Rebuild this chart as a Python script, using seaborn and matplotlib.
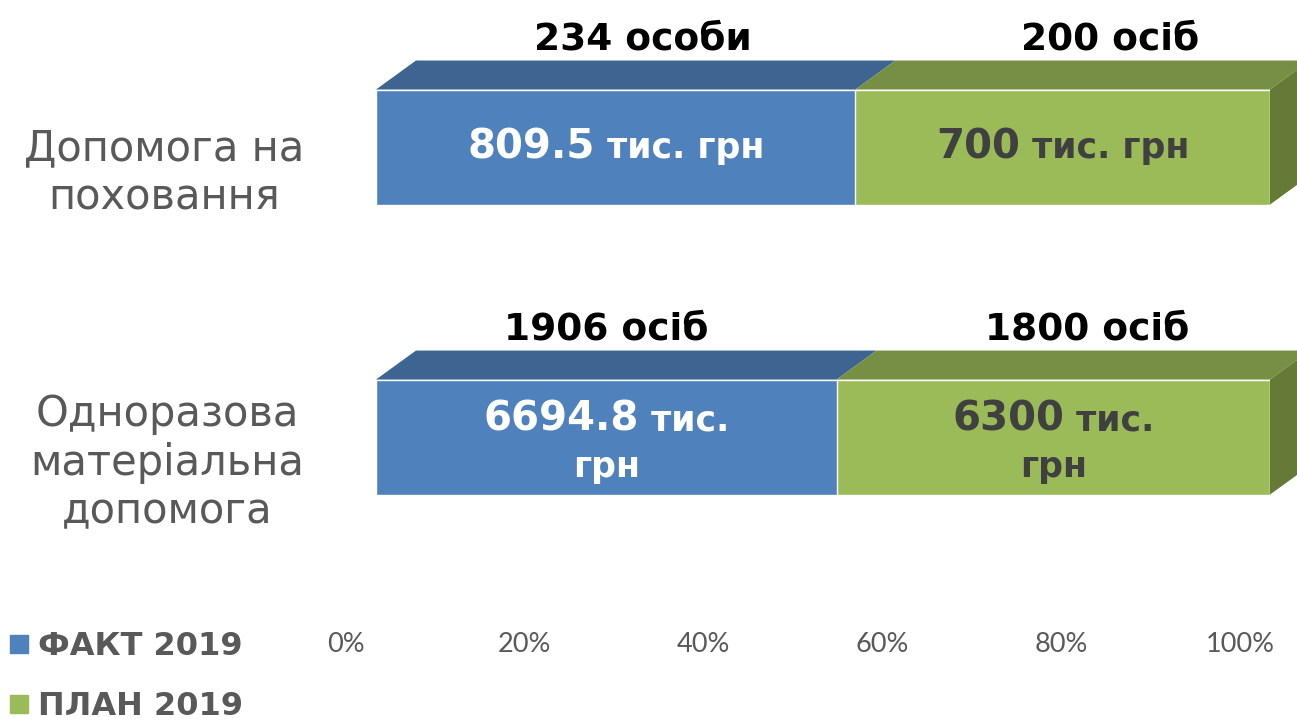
import numpy as np
import pandas as pd
import matplotlib
matplotlib.use("Agg")
import matplotlib.pyplot as plt
import matplotlib.transforms as mtransforms
from matplotlib.patches import Polygon
from matplotlib.lines import Line2D
import seaborn as sns

# Data
categories = ["Допомога на\nпоховання", "Одноразова\nматеріальна\nдопомога"]
fact_values = [809.5, 6694.8]      # тис. грн, ФАКТ 2019
plan_values = [700, 6300]          # тис. грн, ПЛАН 2019
fact_people = ["234 особи", "1906 осіб"]
plan_people = ["200 осіб", "1800 осіб"]
fact_money = ["809.5", "6694.8"]
plan_money = ["700", "6300"]
series_names = ["ФАКТ 2019", "ПЛАН 2019"]
xticks = [0, 20, 40, 60, 80, 100]
xtick_labels = ["0%", "20%", "40%", "60%", "80%", "100%"]

# layout tweaks (pixels)
wrap_unit = [False, True]
fact_people_dx = [27, 0]
plan_people_dx = [47, 34]

blue = "#4F81BD"
blue_top = "#3E6491"
green = "#9BBB59"
green_top = "#778F44"
green_side = "#647A36"
grey = "#595959"
dark = "#404040"

df = pd.DataFrame({"category": categories, "fact": fact_values, "plan": plan_values})
df["fact_pct"] = df["fact"] / (df["fact"] + df["plan"]) * 100
df["total"] = 100.0

sns.set_style("white")
plt.rcParams["font.family"] = ["DejaVu Sans"]

fig = plt.figure(figsize=(12.97, 7.2), dpi=100)
W, H = 1297, 720
ax = fig.add_axes([376 / W, 1 - 625 / H, 894 / W, (625 - 40) / H])

bar_w = 115 / 290
sns.barplot(data=df, x="total", y="category", color=green, saturation=1,
            width=bar_w, orient="h", errorbar=None, ax=ax)
sns.barplot(data=df, x="fact_pct", y="category", color=blue, saturation=1,
            width=bar_w, orient="h", errorbar=None, ax=ax)

ax.set_xlim(0, 100)
ax.set_ylim(1.648, -0.369)
for s in ax.spines.values():
    s.set_visible(False)
ax.set_xlabel("")
ax.set_ylabel("")

# 3D depth in data units
px_x = ax.bbox.width / 100.0
px_y = ax.bbox.height / (1.648 + 0.369)
dx = 40 / px_x
dy = 29 / px_y

green_bars = ax.patches[:2]
blue_bars = ax.patches[2:4]
for gb, bb in zip(green_bars, blue_bars):
    y_top = min(gb.get_y(), gb.get_y() + gb.get_height())
    y_bot = max(gb.get_y(), gb.get_y() + gb.get_height())
    split = bb.get_x() + bb.get_width()
    end = gb.get_x() + gb.get_width()
    start = bb.get_x()
    ax.add_patch(Polygon([(start, y_top), (split, y_top), (split + dx, y_top - dy), (start + dx, y_top - dy)],
                         closed=True, facecolor=blue_top, edgecolor="none", clip_on=False))
    ax.add_patch(Polygon([(split, y_top), (end, y_top), (end + dx, y_top - dy), (split + dx, y_top - dy)],
                         closed=True, facecolor=green_top, edgecolor="none", clip_on=False))
    ax.add_patch(Polygon([(end, y_top), (end + dx, y_top - dy), (end + dx, y_bot - dy), (end, y_bot)],
                         closed=True, facecolor=green_side, edgecolor="none", clip_on=False))

# ticks
ax.set_xticks(xticks)
ax.set_xticklabels(xtick_labels, fontfamily="Lato", fontsize=19.5, color=grey)
ax.tick_params(axis="x", length=0, pad=5)
ax.tick_params(axis="y", length=0, pad=52)
for lab in ax.get_xticklabels():
    lab.set_transform(lab.get_transform() + mtransforms.ScaledTranslation(-30 / 100, 0, fig.dpi_scale_trans))
ax.set_yticks([0, 1])
ax.set_yticklabels(categories, fontsize=30, color=grey, multialignment="center")
for lab in ax.get_yticklabels():
    lab.set_transform(lab.get_transform() + mtransforms.ScaledTranslation(0, -18 / 100, fig.dpi_scale_trans))
ax.xaxis.set_ticks_position("bottom")

fig.canvas.draw()
renderer = fig.canvas.get_renderer()


def put_line(xc, yc, pieces, dy_px, color):
    texts = []
    for s, size in pieces:
        t = ax.text(xc, yc, s, fontsize=size, fontweight="bold", color=color,
                    ha="left", va="baseline")
        texts.append(t)
    widths = [t.get_window_extent(renderer).width for t in texts]
    x = -sum(widths) / 2
    for t, w in zip(texts, widths):
        t.set_transform(mtransforms.offset_copy(ax.transData, fig=fig, x=x, y=-dy_px, units="dots"))
        x += w


for i, (gb, bb) in enumerate(zip(green_bars, blue_bars)):
    yc = gb.get_y() + gb.get_height() / 2
    y_top = min(gb.get_y(), gb.get_y() + gb.get_height())
    split = bb.get_x() + bb.get_width()
    segs = [((bb.get_x() + split) / 2, fact_money[i], "white"),
            ((split + gb.get_x() + gb.get_width()) / 2, plan_money[i], dark)]
    for xc, num, col in segs:
        if wrap_unit[i]:
            put_line(xc, yc, [(num, 29), (" тис.", 25)], -7, col)
            put_line(xc, yc, [("грн", 25)], 40, col)
        else:
            put_line(xc, yc, [(num, 29), (" тис. грн", 25)], 11, col)
    # people counts above the bars
    for xc, txt, off in zip([(bb.get_x() + split) / 2, (split + gb.get_x() + gb.get_width()) / 2],
                            [fact_people[i], plan_people[i]],
                            [fact_people_dx[i], plan_people_dx[i]]):
        ax.text(xc, y_top - dy, txt, fontsize=27, fontweight="bold", color="black",
                ha="center", va="bottom",
                transform=mtransforms.offset_copy(ax.transData, fig=fig, x=off, y=3, units="dots"))

handles = [Line2D([], [], marker="s", linestyle="", color=blue, markersize=13),
           Line2D([], [], marker="s", linestyle="", color=green, markersize=13)]
fig.legend(handles=handles, labels=series_names, loc="upper left",
           bbox_to_anchor=(0.005, 1 - 631 / H), frameon=False,
           prop={"weight": "bold", "size": 23}, labelcolor=grey,
           handletextpad=0.2, handlelength=0.8, labelspacing=0.91,
           borderpad=0, borderaxespad=0)

fig.savefig("out.png", dpi=100)
